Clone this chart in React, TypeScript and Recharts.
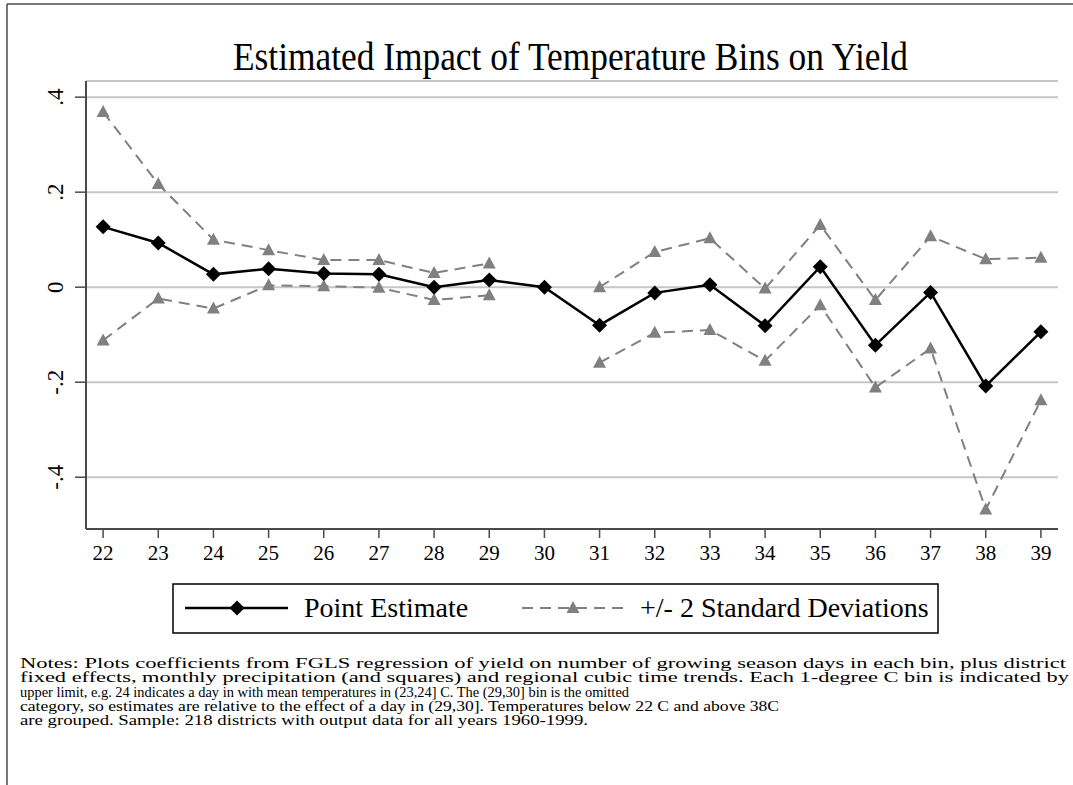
import { CartesianGrid, Line, LineChart, XAxis, YAxis } from "recharts";

const bins = [22, 23, 24, 25, 26, 27, 28, 29, 30, 31, 32, 33, 34, 35, 36, 37, 38, 39];
const pointEstimate = [
  0.127, 0.093, 0.027, 0.039, 0.029, 0.027, 0.0, 0.015, 0, -0.08, -0.012, 0.005,
  -0.081, 0.043, -0.122, -0.011, -0.208, -0.094,
];
const upperBand = [
  0.369, 0.217, 0.1, 0.078, 0.057, 0.057, 0.03, 0.05, null, 0.0, 0.074, 0.103,
  -0.003, 0.131, -0.027, 0.107, 0.059, 0.062,
];
const lowerBand = [
  -0.112, -0.024, -0.045, 0.004, 0.002, -0.001, -0.027, -0.017, null, -0.159,
  -0.096, -0.09, -0.155, -0.038, -0.211, -0.129, -0.468, -0.238,
];
const yTicks = [-0.4, -0.2, 0, 0.2, 0.4];
const noteLines = [
  "Notes: Plots coefficients from FGLS regression of yield on number of growing season days in each bin, plus district",
  "fixed effects, monthly precipitation (and squares) and regional cubic time trends. Each 1-degree C bin is indicated by",
  "upper limit, e.g. 24 indicates a day in with mean temperatures in (23,24] C. The (29,30] bin is the omitted",
  "category, so estimates are relative to the effect of a day in (29,30]. Temperatures below 22 C and above 38C",
  "are grouped. Sample: 218 districts with output data for all years 1960-1999.",
];
const noteWidths = [1046, 1049, 609, 759, 568];

const data = bins.map((bin, i) => ({
  bin,
  estimate: pointEstimate[i],
  upper: upperBand[i],
  lower: lowerBand[i],
}));

const FONT = "'Liberation Serif', 'Times New Roman', Times, serif";
const AXIS = "#4a4a4a";
const BAND = "#808080";
const serif = { fontFamily: FONT };

const fmtY = (v: number) =>
  v === 0 ? "0" : `${v < 0 ? "-" : ""}.${Math.round(Math.abs(v) * 10)}`;

function Diamond({ cx, cy, index }: any) {
  if (cx == null || cy == null) return <g key={`d${index}`} />;
  const r = 7.5;
  return (
    <polygon
      key={`d${index}`}
      points={`${cx},${cy - r} ${cx + r},${cy} ${cx},${cy + r} ${cx - r},${cy}`}
      fill="#000"
    />
  );
}

function Triangle({ cx, cy, index, dataKey }: any) {
  if (cx == null || cy == null) return <g key={`t${dataKey}${index}`} />;
  return (
    <polygon
      key={`t${dataKey}${index}`}
      points={`${cx},${cy - 7} ${cx + 6.5},${cy + 5} ${cx - 6.5},${cy + 5}`}
      fill={BAND}
    />
  );
}

function XTick({ x, y, payload }: any) {
  return (
    <text x={x} y={y + 16} textAnchor="middle" fontSize={21} fill="#000" style={serif}>
      {payload.value}
    </text>
  );
}

function YTick({ y, payload }: any) {
  return (
    <text
      transform={`translate(63, ${y}) rotate(-90)`}
      textAnchor="middle"
      fontSize={23}
      fill="#000"
      style={serif}
    >
      {fmtY(payload.value)}
    </text>
  );
}

export default function App() {
  return (
    <div
      style={{
        position: "absolute",
        left: 0,
        top: 0,
        width: 1073,
        height: 785,
        background: "#fff",
        overflow: "hidden",
        fontFamily: FONT,
      }}
    >
      <LineChart
        width={1073}
        height={785}
        data={data}
        margin={{ top: 81, right: 15, left: 0, bottom: 216 }}
      >
        <CartesianGrid vertical={false} stroke="#c6c6c6" strokeWidth={2} />
        <XAxis
          dataKey="bin"
          type="number"
          domain={[21.69, 39.31]}
          ticks={bins}
          interval={0}
          height={40}
          tickSize={9}
          tickMargin={6}
          axisLine={{ stroke: AXIS, strokeWidth: 2 }}
          tickLine={{ stroke: AXIS, strokeWidth: 1.5 }}
          tick={<XTick />}
        />
        <YAxis
          type="number"
          domain={[-0.509, 0.434]}
          ticks={yTicks}
          allowDataOverflow
          width={86}
          tickSize={11}
          axisLine={{ stroke: AXIS, strokeWidth: 2 }}
          tickLine={{ stroke: AXIS, strokeWidth: 1.5 }}
          tick={<YTick />}
        />
        <Line
          dataKey="upper"
          stroke={BAND}
          strokeWidth={2}
          strokeDasharray="11 7"
          dot={(p: any) => <Triangle {...p} dataKey="upper" />}
          activeDot={false}
          connectNulls={false}
          isAnimationActive={false}
        />
        <Line
          dataKey="lower"
          stroke={BAND}
          strokeWidth={2}
          strokeDasharray="11 7"
          dot={(p: any) => <Triangle {...p} dataKey="lower" />}
          activeDot={false}
          connectNulls={false}
          isAnimationActive={false}
        />
        <Line
          dataKey="estimate"
          stroke="#000"
          strokeWidth={2.5}
          dot={(p: any) => <Diamond {...p} />}
          activeDot={false}
          isAnimationActive={false}
        />
      </LineChart>
      <svg
        width={1073}
        height={785}
        style={{ position: "absolute", left: 0, top: 0, pointerEvents: "none", fontFamily: FONT }}
      >
        <line x1={7} y1={4} x2={1073} y2={4} stroke={AXIS} strokeWidth={1.5} />
        <line x1={7} y1={4} x2={7} y2={785} stroke={AXIS} strokeWidth={1.5} />
        <text
          x={233}
          y={70}
          fontSize={40}
          textLength={675}
          lengthAdjust="spacingAndGlyphs"
          fill="#000"
          style={serif}
        >
          Estimated Impact of Temperature Bins on Yield
        </text>
        <rect
          x={173}
          y={584}
          width={765}
          height={49}
          fill="#fff"
          stroke="#000"
          strokeWidth={1.5}
        />
        <line x1={185} y1={608} x2={288} y2={608} stroke="#000" strokeWidth={2.5} />
        <polygon points="237,600.5 244.5,608 237,615.5 229.5,608" fill="#000" />
        <text x={304} y={617} fontSize={28} fill="#000" style={serif}>
          Point Estimate
        </text>
        <line
          x1={522}
          y1={608}
          x2={625}
          y2={608}
          stroke={BAND}
          strokeWidth={2}
          strokeDasharray="11 7"
        />
        <polygon points="573,601 579.5,613 566.5,613" fill={BAND} />
        <text x={640} y={617} fontSize={28} fill="#000" style={serif}>
          +/- 2 Standard Deviations
        </text>
        {noteLines.map((line, i) => (
          <text
            key={i}
            x={20}
            y={668 + i * 14.3}
            fontSize={15}
            textLength={noteWidths[i]}
            lengthAdjust="spacingAndGlyphs"
            fill="#000"
            style={serif}
          >
            {line}
          </text>
        ))}
      </svg>
    </div>
  );
}
